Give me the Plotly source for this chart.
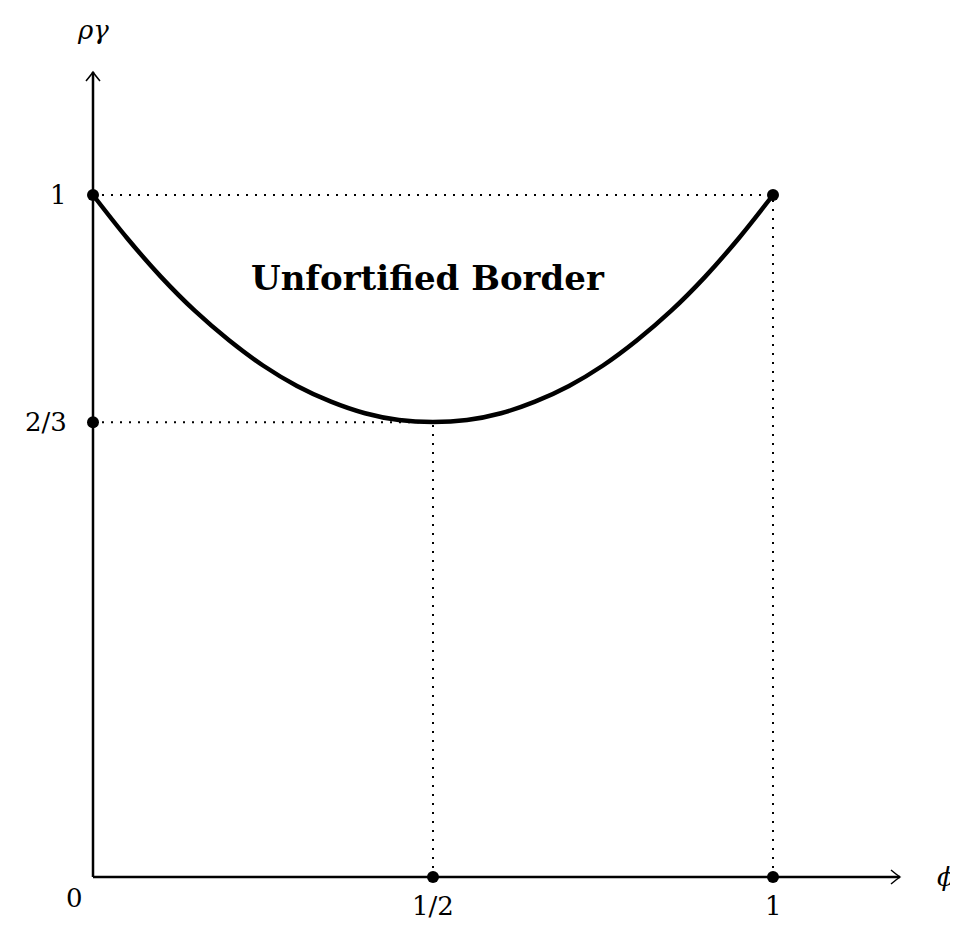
import plotly.graph_objects as go

# border curve
phi = [0.0, 0.05, 0.1, 0.15, 0.2, 0.25, 0.3, 0.35, 0.4, 0.45, 0.5,
       0.55, 0.6, 0.65, 0.7, 0.75, 0.8, 0.85, 0.9, 0.95, 1.0]
rho_gamma = [1.0, 0.937, 0.88, 0.83, 0.787, 0.75, 0.72, 0.697, 0.68, 0.67, 0.667,
             0.67, 0.68, 0.697, 0.72, 0.75, 0.787, 0.83, 0.88, 0.937, 1.0]

# marked points
pts_x = [0, 1, 0, 0.5, 1]
pts_y = [1, 1, 2 / 3, 0, 0]

xticks = [0.5, 1]
xticklabels = ['1/2', '1']
yticks = [1, 2 / 3]
yticklabels = ['1', '2/3']

px = 1 / 680
py = 1 / 682
XMAX = 807 * px
YMAX = 805 * py
PAD = 20
FONT = 'DejaVu Serif'

fig = go.Figure()

# dotted guides
dot = dict(color='black', width=2, dash='2px,7px')
fig.add_trace(go.Scatter(x=[0, 1], y=[1, 1], mode='lines', line=dot, hoverinfo='skip'))
fig.add_trace(go.Scatter(x=[0, 0.5], y=[2 / 3, 2 / 3], mode='lines', line=dot, hoverinfo='skip'))
fig.add_trace(go.Scatter(x=[0.5, 0.5], y=[0, 2 / 3], mode='lines', line=dot, hoverinfo='skip'))
fig.add_trace(go.Scatter(x=[1, 1], y=[0, 1], mode='lines', line=dot, hoverinfo='skip'))

# axes
axis = dict(color='black', width=2.5)
fig.add_trace(go.Scatter(x=[0, XMAX], y=[0, 0], mode='lines', line=axis, hoverinfo='skip'))
fig.add_trace(go.Scatter(x=[0, 0], y=[0, YMAX], mode='lines', line=axis, hoverinfo='skip'))

# curve
fig.add_trace(go.Scatter(x=phi, y=rho_gamma, mode='lines',
                         line=dict(color='black', width=4.5, shape='spline')))

fig.add_trace(go.Scatter(x=pts_x, y=pts_y, mode='markers', marker=dict(color='black', size=12)))

# arrow heads (open, latex style)
fig.add_shape(type='path', xref='x', yref='y', line=dict(color='black', width=1.5),
              path='M %f %f Q %f %f %f 0 Q %f %f %f %f' % (
                  XMAX - 9 * px, 7 * py, XMAX - 3 * px, 2 * py, XMAX,
                  XMAX - 3 * px, -2 * py, XMAX - 9 * px, -7 * py))
fig.add_shape(type='path', xref='x', yref='y', line=dict(color='black', width=1.5),
              path='M %f %f Q %f %f 0 %f Q %f %f %f %f' % (
                  -7 * px, YMAX - 9 * py, -2 * px, YMAX - 3 * py, YMAX,
                  2 * px, YMAX - 3 * py, 7 * px, YMAX - 9 * py))

tf = dict(family=FONT, size=26, color='black')
for v, t in zip(xticks, xticklabels):
    fig.add_annotation(x=v, y=0, yshift=-29, text=t, showarrow=False, font=tf)
for v, t in zip(yticks, yticklabels):
    fig.add_annotation(x=0, y=v, xanchor='right', xshift=-24, text=t, showarrow=False, font=tf)
fig.add_annotation(x=0, y=0, xanchor='right', xshift=-8, yshift=-21, text='0', showarrow=False, font=tf)

fig.add_annotation(x=XMAX, y=0, xshift=46, text='<i>ϕ</i>', showarrow=False, font=tf)
fig.add_annotation(x=0, y=YMAX, yshift=42, text='<i>ργ</i>', showarrow=False, font=tf)

fig.add_annotation(x=335 * px, y=(877 - 278) * py, text='<b>Unfortified Border</b>', showarrow=False,
                   font=dict(family=FONT, size=34, color='black'))

# page body has an 8px margin, so the figure is shifted accordingly
fig.update_layout(
    width=950, height=923,
    margin=dict(l=85 - PAD, r=950 - (85 - PAD) - (807 + 2 * PAD),
                t=869 - 805 - PAD, b=923 - (869 - 805 - PAD) - (805 + 2 * PAD)),
    plot_bgcolor='white', paper_bgcolor='white',
    showlegend=False,
    xaxis=dict(range=[-PAD * px, XMAX + PAD * px], visible=False),
    yaxis=dict(range=[-PAD * py, YMAX + PAD * py], visible=False),
)

fig.write_html("out.html")
